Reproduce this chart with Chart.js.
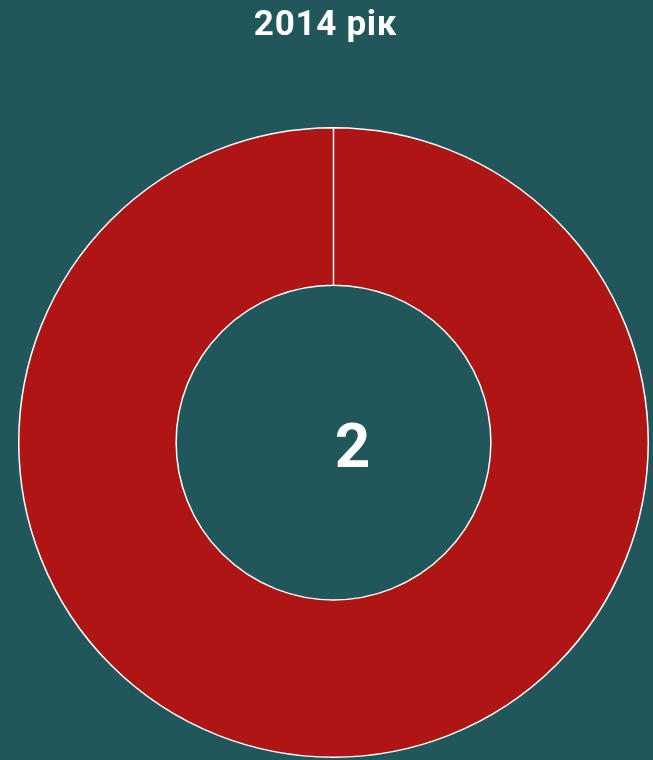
<!DOCTYPE html>
<html>
<head>
<meta charset="utf-8">
<script src="https://cdn.jsdelivr.net/npm/chart.js@4"></script>
<style>
  html, body { margin: 0; padding: 0; background: #21565a; }
  #wrap { width: 653px; height: 760px; }
</style>
</head>
<body>
<div id="wrap"><canvas id="myChart" width="653" height="760"></canvas></div>
<script>
"use strict";

let titleText = "2014 рік";
let labels = ["2014"];
let values = [2];
let centerText = "2";

// title sits a bit left of the ring centre; number drawn in the middle of the ring
let textPlugin = {
  id: "textBits",
  beforeDraw(chart) {
    chart.ctx.save();
    chart.ctx.translate(-8, 0);
    chart.ctx.letterSpacing = "0.7px";
  },
  beforeDatasetsDraw(chart) {
    chart.ctx.restore();
  },
  afterDatasetsDraw(chart) {
    let arc = chart.getDatasetMeta(0).data[0];
    if (!arc) return;
    let ctx = chart.ctx;
    ctx.save();
    ctx.fillStyle = "#ffffff";
    ctx.font = "bold 62px Roboto";
    ctx.textAlign = "center";
    ctx.textBaseline = "middle";
    ctx.fillText(centerText, arc.x + 19, arc.y + 9);
    ctx.restore();
  },
};

let ctx = document.getElementById("myChart").getContext("2d");
let myChart = new Chart(ctx, {
  type: "doughnut",
  data: {
    labels: labels,
    datasets: [
      {
        data: values,
        backgroundColor: ["#ae1515"],
        borderColor: "#ffffff",
        borderWidth: 1.5,
      },
    ],
  },
  options: {
    responsive: false,
    animation: false,
    cutout: "50%",
    layout: {
      padding: { left: 18, right: 4, top: 0, bottom: 2 },
    },
    plugins: {
      legend: { display: false },
      tooltip: { enabled: false },
      title: {
        display: true,
        text: titleText,
        color: "#ffffff",
        font: { family: "Roboto", size: 35, weight: "bold" },
        padding: { top: 5, bottom: 80 },
      },
    },
  },
  plugins: [textPlugin],
});
</script>
</body>
</html>
